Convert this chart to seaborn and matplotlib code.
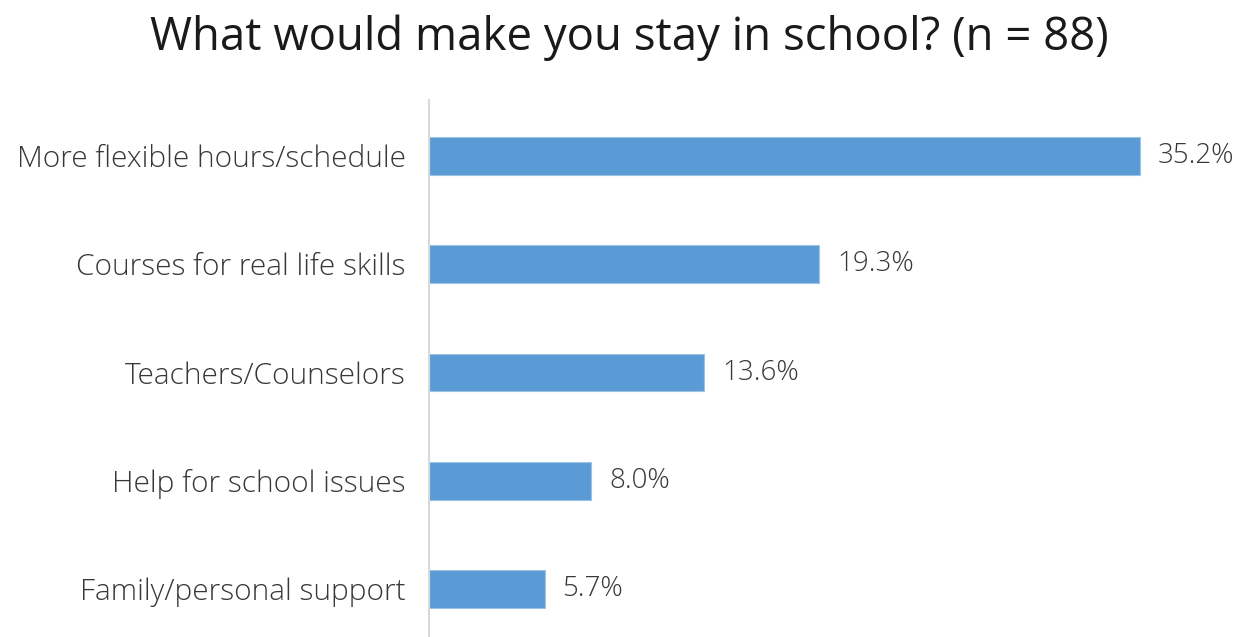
import matplotlib
matplotlib.use("Agg")
import matplotlib.pyplot as plt
import seaborn as sns
import pandas as pd

categories = [
    "More flexible hours/schedule",
    "Courses for real life skills",
    "Teachers/Counselors",
    "Help for school issues",
    "Family/personal support",
]
percentages = [35.2, 19.3, 13.6, 8.0, 5.7]
title = "What would make you stay in school? (n = 88)"

sns.set_theme(style="white")
plt.rcParams["font.family"] = ["Open Sans", "DejaVu Sans"]

df = pd.DataFrame({"reason": categories, "pct": percentages})

fig = plt.figure(figsize=(12.39, 6.37), dpi=100)
ax = fig.add_axes([0.3466, 0.0, 0.6534, 0.843])

sns.barplot(data=df, x="pct", y="reason", orient="h", color="#5B9BD5",
            saturation=1, width=0.35, edgecolor="#9DC3E6", linewidth=0.8, ax=ax)

ax.set_xlim(0, 40.1)
ax.set_ylim(4.443, -0.517)
ax.set_xlabel("")
ax.set_ylabel("")
ax.set_xticks([])
for side in ["top", "right", "bottom"]:
    ax.spines[side].set_visible(False)
ax.spines["left"].set_color("#D9D9D9")
ax.spines["left"].set_linewidth(1.5)

ax.tick_params(axis="y", length=0, pad=17)
for lbl in ax.get_yticklabels():
    lbl.set_fontsize(21.5)
    lbl.set_color("#383838")
    lbl.set_fontweight("light")

for i, v in enumerate(percentages):
    ax.annotate(f"{v:.1f}%", xy=(v, i), xytext=(13, 0), textcoords="offset points",
                ha="left", va="center", fontsize=20, color="#383838",
                fontweight="light")

fig.text(0.508, 0.94, title, ha="center", va="center", fontsize=32.8,
         color="#1a1a1a")

fig.savefig("out.png", dpi=100)
